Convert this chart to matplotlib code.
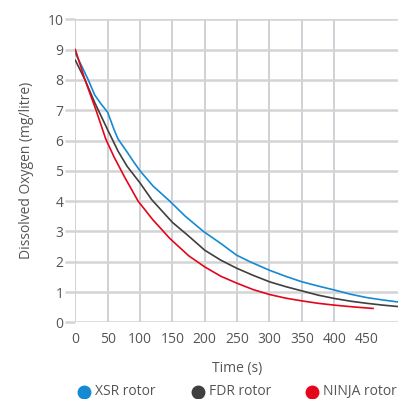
import matplotlib.pyplot as plt
from matplotlib.lines import Line2D

# readings
xsr_t = [0, 10, 20, 30, 40, 50, 60, 66, 80, 90, 100, 120, 146, 170, 198, 225, 249, 270, 300, 325, 350, 375, 400, 425, 450, 475, 500]
xsr_o = [8.88, 8.45, 8.0, 7.5, 7.2, 6.93, 6.35, 6.05, 5.62, 5.3, 5.0, 4.5, 4.0, 3.5, 3.0, 2.6, 2.22, 2.0, 1.72, 1.52, 1.34, 1.2, 1.07, 0.93, 0.82, 0.74, 0.67]

fdr_t = [0, 15, 30, 50, 66, 80, 100, 118, 150, 175, 200, 225, 250, 275, 300, 325, 350, 375, 400, 425, 450, 475, 500]
fdr_o = [8.65, 8.0, 7.25, 6.35, 5.65, 5.15, 4.6, 4.05, 3.3, 2.85, 2.38, 2.05, 1.78, 1.55, 1.34, 1.18, 1.04, 0.9, 0.79, 0.7, 0.63, 0.57, 0.52]

ninja_t = [0, 15, 32, 47, 60, 76, 97, 120, 146, 175, 200, 225, 250, 275, 300, 325, 350, 375, 400, 430, 460]
ninja_o = [9.0, 8.0, 7.0, 6.05, 5.45, 4.8, 4.0, 3.38, 2.77, 2.2, 1.83, 1.52, 1.29, 1.08, 0.92, 0.8, 0.71, 0.63, 0.57, 0.51, 0.46]

x_ticks = [0, 50, 100, 150, 200, 250, 300, 350, 400, 450]
y_ticks = list(range(0, 11))

plt.rcParams['font.family'] = ['Open Sans', 'DejaVu Sans']
txt = '#555555'

fig = plt.figure(figsize=(4.09, 3.99), dpi=100)
ax = fig.add_axes([0.1842, 0.192, 0.7896, 0.7596])

# grid drawn by hand: vertical lines stop at 400
for v in x_ticks[:-1]:
    ax.axvline(v, color='#c6c9cf', lw=1.2, zorder=1)
for h in y_ticks:
    ax.axhline(h, color='#d4d4d4', lw=1.8, zorder=1)

ax.plot(xsr_t, xsr_o, color='#1589d3', lw=1.2, zorder=3)
ax.plot(fdr_t, fdr_o, color='#3f3f3f', lw=1.2, zorder=3)
ax.plot(ninja_t, ninja_o, color='#e3061b', lw=1.2, zorder=4)

ax.set_xlim(0, 499)
ax.set_ylim(0, 10)
ax.set_xticks(x_ticks)
ax.set_yticks(y_ticks)
for s in ax.spines.values():
    s.set_visible(False)
ax.tick_params(axis='y', length=7.5, width=1.8, color='#d4d4d4', labelsize=10, labelcolor=txt, pad=1)
ax.tick_params(axis='x', length=0, labelsize=10, labelcolor=txt, pad=7)
ax.set_xlabel('Time (s)', fontsize=10, color=txt, labelpad=10)
ax.set_ylabel('Dissolved Oxygen (mg/litre)', fontsize=10, color=txt, labelpad=10)

# legend row
items = [('XSR rotor', '#1589d3', 0.205), ('FDR rotor', '#3f3f3f', 0.484), ('NINJA rotor', '#e3061b', 0.763)]
for label, c, xf in items:
    fig.add_artist(Line2D([xf], [0.017], marker='o', markersize=9, color=c, lw=0,
                          transform=fig.transFigure))
    fig.text(xf + 0.027, 0.019, label, color=txt, fontsize=10, ha='left', va='center')

fig.savefig('out.png', dpi=100)
